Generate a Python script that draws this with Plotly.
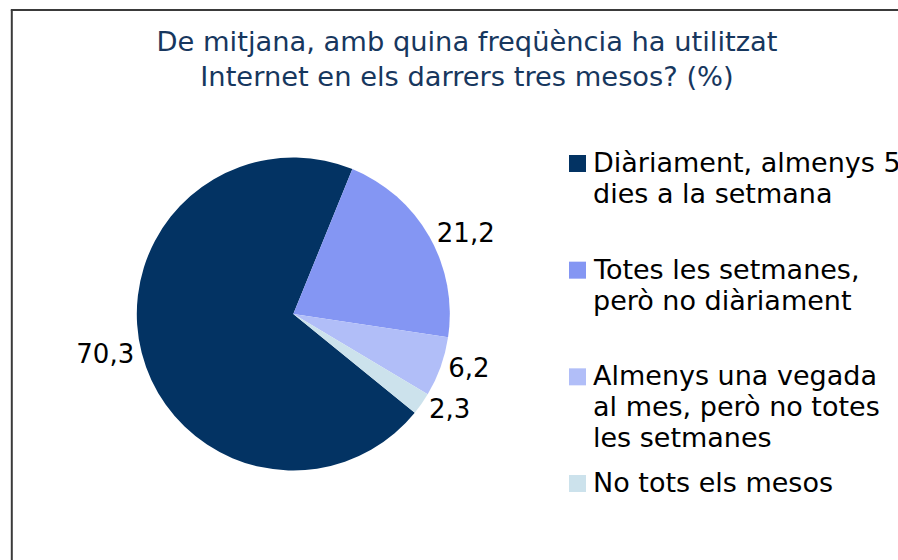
import plotly.graph_objects as go

# ---- data ----
categories = [
    "Diàriament, almenys 5 dies a la setmana",
    "Totes les setmanes, però no diàriament",
    "Almenys una vegada al mes, però no totes les setmanes",
    "No tots els mesos",
]
legend_lines = [
    ["Diàriament, almenys 5", "dies a la setmana"],
    ["Totes les setmanes,", "però no diàriament"],
    ["Almenys una vegada", "al mes, però no totes", "les setmanes"],
    ["No tots els mesos"],
]
values = [70.3, 21.2, 6.2, 2.3]
colors = ["#033363", "#8496F3", "#B1BEF8", "#CCE2EC"]
title_lines = ["De mitjana, amb quina freqüència ha utilitzat",
               "Internet en els darrers tres mesos? (%)"]

# ---- layout constants ----
W, H = 898, 560
FONT = "DejaVu Sans, Verdana, sans-serif"
TITLE_COLOR = "#17375E"


def px(x):
    """screen x -> paper fraction"""
    return x / W


def py(y):
    """screen y -> paper fraction"""
    return 1 - y / H


cx, cy, r = 293.3, 314.0, 156.5

fig = go.Figure(
    go.Pie(
        labels=categories,
        values=values,
        marker=dict(colors=colors, line=dict(width=0)),
        sort=False,
        direction="clockwise",
        rotation=129.1,
        textposition="outside",
        texttemplate="%{value:.1f}",
        textfont=dict(family=FONT, size=26, color="#000000"),
        hoverinfo="skip",
        showlegend=False,
        domain=dict(x=[px(cx - r), px(cx + r)], y=[py(cy + r), py(cy - r)]),
    )
)

shapes = [
    # chart frame (left and top edges visible)
    dict(type="line", xref="paper", yref="paper", x0=px(11.8), x1=px(11.8),
         y0=py(10), y1=-0.1, line=dict(color="#3A3A3A", width=2)),
    dict(type="line", xref="paper", yref="paper", x0=px(10.8), x1=1.1,
         y0=py(10), y1=py(10), line=dict(color="#3A3A3A", width=2)),
]
annotations = []

# custom legend (evenly spaced items, first-line baselines)
first_base = 172.0
step = (492.0 - 172.0) / (len(categories) - 1)
line_gap = 31.0
size = 27
for i, lines in enumerate(legend_lines):
    base = first_base + i * step
    shapes.append(dict(type="rect", xref="paper", yref="paper",
                       x0=px(569), x1=px(586), y0=py(base), y1=py(base - 17),
                       fillcolor=colors[i], line=dict(width=0)))
    for j, t in enumerate(lines):
        b = base + j * line_gap
        annotations.append(dict(
            text=t, xref="paper", yref="paper", x=px(592), y=py(b - 0.346 * size),
            xanchor="left", yanchor="middle", showarrow=False, borderpad=0,
            font=dict(family=FONT, size=size, color="#000000")))

fig.update_layout(
    width=W, height=H, autosize=False,
    margin=dict(l=0, r=0, t=0, b=0),
    paper_bgcolor="white", plot_bgcolor="white",
    separators=", ",
    title=dict(text="<br>".join(title_lines), x=px(467), xanchor="center",
               y=py(51), yanchor="top", yref="container",
               font=dict(family=FONT, size=27.3, color=TITLE_COLOR)),
    shapes=shapes,
    annotations=annotations,
)

fig.write_html(
    "out.html",
    config={"displayModeBar": False},
    post_script="document.body.style.margin='0';document.body.style.overflow='hidden';",
)
